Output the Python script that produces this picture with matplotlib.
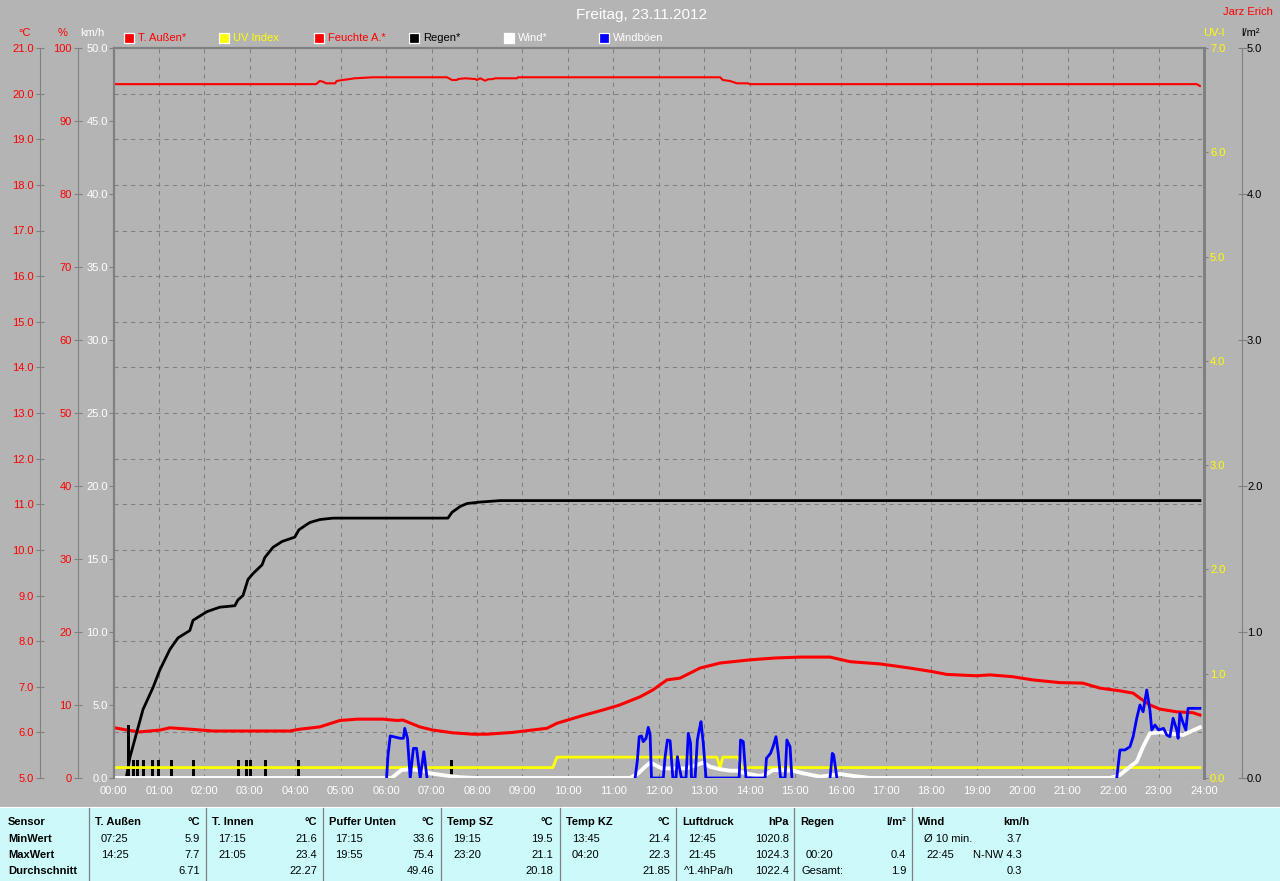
import matplotlib
matplotlib.use("Agg")
import matplotlib.pyplot as plt
import numpy as np
from matplotlib.patches import Rectangle
from matplotlib.lines import Line2D

nan = np.nan

# ---------------- data (hours of day / values) ----------------
hour_labels = [f"{h:02d}:00" for h in range(25)]
temp_ticks = [5.0, 6.0, 7.0, 8.0, 9.0, 10.0, 11.0, 12.0, 13.0, 14.0, 15.0, 16.0, 17.0, 18.0, 19.0, 20.0, 21.0]
hum_ticks = [0, 10, 20, 30, 40, 50, 60, 70, 80, 90, 100]
wind_ticks = [0.0, 5.0, 10.0, 15.0, 20.0, 25.0, 30.0, 35.0, 40.0, 45.0, 50.0]
uv_ticks = [0.0, 1.0, 2.0, 3.0, 4.0, 5.0, 6.0, 7.0]
rain_ticks = [0.0, 1.0, 2.0, 3.0, 4.0, 5.0]

# T. Außen (°C)
temp_t = [0.03, 0.30, 0.58, 1.02, 1.24, 1.68, 2.19, 3.88, 4.10, 4.54, 4.98, 5.36, 5.93, 6.24, 6.37,
          6.74, 7.03, 7.47, 7.91, 8.22, 8.79, 9.54, 9.76, 10.33, 10.77, 11.14, 11.59, 11.87, 12.18,
          12.47, 12.91, 13.35, 14.01, 14.56, 15.11, 15.77, 16.21, 16.87, 17.24, 17.59, 18.03, 18.34,
          19.00, 19.29, 19.79, 20.23, 20.83, 21.33, 21.71, 22.15, 22.44, 22.59, 22.81, 23.03, 23.40,
          23.76, 23.91]
temp_v = [6.10, 6.05, 6.01, 6.05, 6.10, 6.07, 6.03, 6.03, 6.07, 6.12, 6.26, 6.29, 6.29, 6.26, 6.27,
          6.12, 6.05, 5.99, 5.96, 5.96, 6.00, 6.09, 6.20, 6.37, 6.49, 6.60, 6.78, 6.93, 7.15,
          7.19, 7.41, 7.52, 7.59, 7.63, 7.65, 7.65, 7.55, 7.50, 7.45, 7.40, 7.33, 7.27,
          7.24, 7.26, 7.22, 7.15, 7.09, 7.08, 6.97, 6.91, 6.86, 6.75, 6.60, 6.51, 6.45,
          6.43, 6.38]

# Feuchte A. (%)
hum_t = [0.0, 4.46, 4.54, 4.61, 4.68, 4.88, 4.91, 5.05, 5.16, 5.31, 5.71, 7.34, 7.45, 7.56, 7.58,
         7.74, 7.96, 8.00, 8.07, 8.18, 8.24, 8.35, 8.40, 8.88, 8.90, 13.35, 13.41, 13.57, 13.72,
         13.96, 14.01, 23.84, 23.91]
hum_v = [95.05, 95.05, 95.48, 95.38, 95.16, 95.16, 95.48, 95.62, 95.71, 95.85, 95.99, 95.99, 95.62,
         95.62, 95.75, 95.85, 95.75, 95.62, 95.85, 95.52, 95.71, 95.75, 95.85, 95.85, 95.99, 95.99,
         95.62, 95.48, 95.16, 95.16, 95.05, 95.05, 94.8]

# Regen kumuliert (l/m²)
rain_t = [0.0, 0.28, 0.36, 0.65, 0.87, 1.02, 1.24, 1.42, 1.68, 1.75, 2.06, 2.34, 2.67, 2.74, 2.85,
          2.96, 3.07, 3.27, 3.33, 3.51, 3.71, 3.99, 4.08, 4.32, 4.54, 4.83, 7.36, 7.45, 7.63, 7.78,
          8.07, 8.51, 23.91]
rain_v = [0.0, 0.0, 0.14, 0.47, 0.62, 0.74, 0.88, 0.96, 1.01, 1.08, 1.14, 1.17, 1.18, 1.22, 1.25,
          1.36, 1.40, 1.46, 1.51, 1.58, 1.62, 1.65, 1.70, 1.75, 1.77, 1.78, 1.78, 1.82, 1.86, 1.88,
          1.89, 1.90, 1.90]

# Regen pro Intervall (l/m²)
bar_t = [0.34, 0.43, 0.52, 0.67, 0.85, 1.00, 1.27, 1.75, 2.76, 2.92, 3.01, 3.34, 4.08, 7.43]
bar_v = [0.36, 0.12, 0.12, 0.12, 0.12, 0.12, 0.12, 0.12, 0.12, 0.12, 0.12, 0.12, 0.12, 0.12]

# UV Index
uv_t = [0.0, 9.67, 9.76, 13.28, 13.35, 13.41, 13.74, 13.83, 23.91]
uv_v = [0.1, 0.1, 0.2, 0.2, 0.1, 0.2, 0.2, 0.1, 0.1]

# Wind (km/h)
wind_t = [0.0, 6.12, 6.34, 6.53, 6.82, 6.97, 7.33, 7.63, 7.96,
          11.37, 11.55, 11.70, 11.81, 11.88, 12.06, 12.61, 12.83, 12.98, 13.13, 13.35, 13.57, 13.75,
          13.90, 14.23, 14.37, 14.52, 14.96, 15.18, 15.55, 15.84, 15.99, 16.28, 16.65,
          21.93, 22.15, 22.37, 22.52, 22.66, 22.81, 23.03, 23.54, 23.91]
wind_v = [0.0, 0.0, 0.55, 0.60, 0.50, 0.32, 0.16, 0.05, 0.0,
          0.0, 0.32, 0.77, 1.05, 0.96, 0.66, 0.66, 0.89, 1.05, 0.77, 0.60, 0.50, 0.50,
          0.32, 0.14, 0.27, 0.55, 0.50, 0.32, 0.09, 0.21, 0.27, 0.14, 0.0,
          0.0, 0.21, 0.77, 1.12, 2.14, 3.06, 3.13, 2.95, 3.47]

# Windböen (km/h)
gust_t = [6.01, 6.04, 6.09, 6.31, 6.38, 6.41, 6.47, 6.53, 6.60, 6.67, 6.75, 6.83, 6.90, nan,
          11.48, 11.53, 11.57, 11.62, 11.66, 11.72, 11.77, 11.81, 11.84, 12.10, 12.14, 12.19, 12.25,
          12.31, 12.38, 12.41, 12.45, 12.50, 12.60, 12.65, 12.70, 12.72, 12.80, 12.85, 12.89, 12.93,
          12.98, 13.04, 13.77, 13.80, 13.86, 13.92, 14.34, 14.37, 14.46, 14.52, 14.58, 14.63, 14.68,
          14.78, 14.82, 14.89, 14.93, nan,
          15.77, 15.82, 15.85, 15.92, nan,
          22.08, 22.15, 22.26, 22.37, 22.44, 22.52, 22.59, 22.66, 22.74, 22.81, 22.85, 22.92, 23.00,
          23.11, 23.18, 23.25, 23.32, 23.40, 23.43, 23.47, 23.54, 23.60, 23.65, 23.91]
gust_v = [0, 1.5, 2.88, 2.72, 2.72, 3.40, 2.72, 0, 2.03, 2.03, 0, 1.80, 0, nan,
          0, 1.23, 2.83, 2.88, 2.49, 2.72, 3.47, 2.95, 0, 0, 1.46, 2.60, 2.55,
          0, 0, 1.46, 0.77, 0, 0, 3.06, 2.38, 0, 0, 2.60, 3.29, 3.86,
          2.38, 0, 0, 2.60, 2.49, 0, 0, 1.35, 1.69, 2.19, 2.83, 1.69, 0,
          0, 2.60, 2.14, 0, nan,
          0, 1.69, 1.58, 0, nan,
          0, 1.92, 1.92, 2.14, 2.83, 4.09, 5.0, 4.54, 6.03, 4.66, 3.29, 3.63, 3.29,
          3.40, 2.95, 2.83, 4.09, 3.29, 2.72, 4.43, 3.77, 3.29, 4.77, 4.77]

# Tabelle
row_labels = ["Sensor", "MinWert", "MaxWert", "Durchschnitt"]
table_cols = ["T. Außen", "T. Innen", "Puffer Unten", "Temp SZ", "Temp KZ", "Luftdruck", "Regen", "Wind"]
table_units = ["°C", "°C", "°C", "°C", "°C", "hPa", "l/m²", "km/h"]
min_time = ["07:25", "17:15", "17:15", "19:15", "13:45", "12:45", "", "Ø 10 min."]
min_val = ["5.9", "21.6", "33.6", "19.5", "21.4", "1020.8", "", "3.7"]
max_time = ["14:25", "21:05", "19:55", "23:20", "04:20", "21:45", "00:20", "22:45"]
max_val = ["7.7", "23.4", "75.4", "21.1", "22.3", "1024.3", "0.4", "N-NW 4.3"]
avg_label = ["", "", "", "", "", "^1.4hPa/h", "Gesamt:", ""]
avg_val = ["6.71", "22.27", "49.46", "20.18", "21.85", "1022.4", "1.9", "0.3"]

legend_names = ["T. Außen*", "UV Index", "Feuchte A.*", "Regen*", "Wind*", "Windböen"]
legend_colors = ["#FF0000", "#FFFF00", "#FF0000", "#000000", "#FFFFFF", "#0000FF"]
legend_text_colors = ["#FF0000", "#FFFF00", "#FF0000", "#000000", "#FFFFFF", "#FFFFFF"]

# ---------------- layout ----------------
W, H = 1280, 881
plt.rcParams['font.family'] = ['Liberation Sans', 'DejaVu Sans']
BG = '#B4B4B4'
GRAY = '#808080'
PT = 72 / 100.0  # points per pixel

fig = plt.figure(figsize=(12.8, 8.81), dpi=100, facecolor=BG)


def fx(x):
    return x / W


def fy(y):
    return 1 - y / H


L, R, T, B = 113.5, 1204.0, 48.0, 778.0
rect = [fx(L), fy(B), (R - L) / W, (B - T) / H]

ax_t = fig.add_axes(rect, facecolor='none')
ax_h = fig.add_axes(rect, facecolor='none')
ax_r = fig.add_axes(rect, facecolor='none')
ax_uv = fig.add_axes(rect, facecolor='none')
ax_w = fig.add_axes(rect, facecolor='none')
for ax in (ax_t, ax_h, ax_r, ax_uv, ax_w):
    ax.set_xlim(0, 24)
    for s in ax.spines.values():
        s.set_visible(False)
    ax.tick_params(axis='x', bottom=False, top=False, labelbottom=False)
    ax.tick_params(axis='y', left=False, right=False, labelleft=False, labelright=False)

# °C axis
ax_t.set_ylim(5, 21)
sp = ax_t.spines['left']
sp.set_visible(True); sp.set_position(('outward', 73.5 * PT)); sp.set_color(GRAY); sp.set_linewidth(0.8)
ax_t.set_yticks(temp_ticks, labels=[f"{v:.1f}" for v in temp_ticks])
ax_t.tick_params(axis='y', left=True, labelleft=True, direction='inout', length=8 * PT, width=0.8,
                 color=GRAY, labelcolor='#FF0000', labelsize=8, pad=2 * PT)
for v in temp_ticks[1:-1]:
    ax_t.axhline(v, color=GRAY, lw=0.75, ls=(0, (4, 4)), zorder=0)
for h in range(1, 24):
    ax_t.axvline(h, color=GRAY, lw=0.75, ls=(0, (4, 4)), zorder=0)

# % axis
ax_h.set_ylim(0, 100)
sp = ax_h.spines['left']
sp.set_visible(True); sp.set_position(('outward', 36 * PT)); sp.set_color(GRAY); sp.set_linewidth(0.8)
ax_h.set_yticks(hum_ticks, labels=[f"{v:d}" for v in hum_ticks])
ax_h.tick_params(axis='y', left=True, labelleft=True, direction='inout', length=8 * PT, width=0.8,
                 color=GRAY, labelcolor='#FF0000', labelsize=8, pad=2 * PT)

# l/m² axis
ax_r.set_ylim(0, 5)
sp = ax_r.spines['right']
sp.set_visible(True); sp.set_position(('outward', 38 * PT)); sp.set_color(GRAY); sp.set_linewidth(0.8)
ax_r.yaxis.tick_right()
ax_r.set_yticks(rain_ticks, labels=[f"{v:.1f}" for v in rain_ticks])
ax_r.tick_params(axis='y', right=True, labelright=True, left=False, labelleft=False,
                 direction='inout', length=9 * PT, width=0.8,
                 color=GRAY, labelcolor='#000000', labelsize=8, pad=0.5 * PT)

# UV axis
ax_uv.set_ylim(0, 7)
sp = ax_uv.spines['right']
sp.set_visible(True); sp.set_color(GRAY); sp.set_linewidth(3 * PT)
ax_uv.yaxis.tick_right()
ax_uv.set_yticks(uv_ticks, labels=[f"{v:.1f}" for v in uv_ticks])
ax_uv.tick_params(axis='y', right=True, labelright=True, left=False, labelleft=False,
                  direction='out', length=4 * PT, width=0.8,
                  color=GRAY, labelcolor='#FFFF00', labelsize=8, pad=2 * PT)

# km/h axis (plot frame)
ax_w.set_ylim(0, 50)
for side in ('left', 'top'):
    sp = ax_w.spines[side]
    sp.set_visible(True); sp.set_color(GRAY); sp.set_linewidth(2.2 * PT)
ax_w.set_yticks(wind_ticks, labels=[f"{v:.1f}" for v in wind_ticks])
ax_w.tick_params(axis='y', left=True, labelleft=True, direction='out', length=5 * PT, width=0.8,
                 color=GRAY, labelcolor='#FFFFFF', labelsize=8, pad=0.5 * PT)
ax_w.set_xticks(range(25), labels=hour_labels)
ax_w.tick_params(axis='x', bottom=True, labelbottom=True, length=0, pad=6,
                 labelcolor='#FFFFFF', labelsize=8)

# ---------------- series ----------------
ax_h.plot(hum_t, hum_v, color='#FF0000', lw=1.5)
ax_t.plot(temp_t, temp_v, color='#FF0000', lw=2.2)
ax_r.bar(bar_t, bar_v, width=0.066, color='#000000', align='center', zorder=2)
ax_r.plot(rain_t, rain_v, color='#000000', lw=2.0, zorder=3)
ax_uv.plot(uv_t, uv_v, color='#FFFF00', lw=2.0)
ax_w.plot(wind_t, wind_v, color='#FFFFFF', lw=2.8, zorder=2)
ax_w.axhline(0, color='#000000', lw=0.75, ls=(0, (1, 1)), zorder=3)
ax_w.plot(gust_t, gust_v, color='#0000FF', lw=2.0, zorder=4)

# ---------------- texts ----------------
fig.text(fx(642), fy(15), "Freitag, 23.11.2012", color='white', fontsize=11, ha='center', va='center')
fig.text(fx(1273), fy(12), "Jarz Erich", color='#FF0000', fontsize=8, ha='right', va='center')
fig.text(fx(25), fy(33), "°C", color='#FF0000', fontsize=8, ha='center', va='center')
fig.text(fx(63), fy(33), "%", color='#FF0000', fontsize=8, ha='center', va='center')
fig.text(fx(92), fy(33), "km/h", color='white', fontsize=8, ha='center', va='center')
fig.text(fx(1214), fy(33), "UV-I", color='#FFFF00', fontsize=8, ha='center', va='center')
fig.text(fx(1251), fy(33), "l/m²", color='#000000', fontsize=8, ha='center', va='center')

for i, (name, c, tc) in enumerate(zip(legend_names, legend_colors, legend_text_colors)):
    x0 = 124 + 95 * i
    fig.add_artist(Rectangle((fx(x0), fy(43)), 10 / W, 10 / H, transform=fig.transFigure,
                             facecolor=c, edgecolor='white', lw=0.9))
    fig.text(fx(x0 + 14), fy(38), name, color=tc, fontsize=8, ha='left', va='center')

# ---------------- table ----------------
fig.add_artist(Rectangle((0, 0), 1, (H - 807) / H, transform=fig.transFigure,
                         facecolor='#CCFAFA', edgecolor='none'))
fig.add_artist(Line2D([0, 1], [fy(807), fy(807)], transform=fig.transFigure, color='white', lw=0.8))
seps = [89, 206, 323, 441, 560, 676, 794, 912]
val_right = [200, 317, 434, 553, 670, 789, 906, 1022]
unit_right = [200, 317, 434, 553, 670, 789, 906, 1030]
rows_y = [822, 839, 855, 871]
for x in seps:
    fig.add_artist(Line2D([fx(x), fx(x)], [fy(808), 0], transform=fig.transFigure, color=GRAY, lw=0.9))
for r, lab in enumerate(row_labels):
    fig.text(fx(8), fy(rows_y[r]), lab, fontsize=8, fontweight='bold', color='black', ha='left', va='center')
for i, sx in enumerate(seps):
    fig.text(fx(sx + 6), fy(rows_y[0]), table_cols[i], fontsize=8, fontweight='bold', ha='left', va='center')
    fig.text(fx(unit_right[i]), fy(rows_y[0]), table_units[i], fontsize=8, fontweight='bold', ha='right', va='center')
    fig.text(fx(sx + 12), fy(rows_y[1]), min_time[i], fontsize=8, ha='left', va='center')
    fig.text(fx(val_right[i]), fy(rows_y[1]), min_val[i], fontsize=8, ha='right', va='center')
    fig.text(fx(sx + 14 if i == 7 else sx + 12), fy(rows_y[2]), max_time[i], fontsize=8, ha='left', va='center')
    fig.text(fx(val_right[i]), fy(rows_y[2]), max_val[i], fontsize=8, ha='right', va='center')
    fig.text(fx(sx + 8), fy(rows_y[3]), avg_label[i], fontsize=8, ha='left', va='center')
    fig.text(fx(val_right[i]), fy(rows_y[3]), avg_val[i], fontsize=8, ha='right', va='center')

fig.savefig("out.png", dpi=100, facecolor=BG)
